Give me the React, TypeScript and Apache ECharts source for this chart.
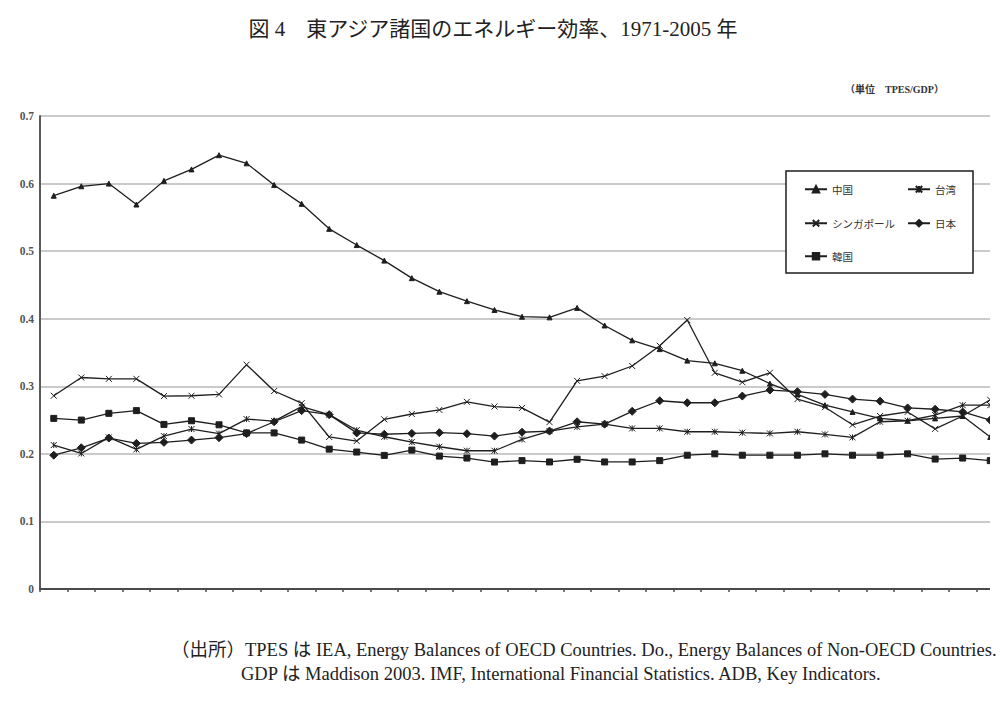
import * as echarts from 'echarts';
import { useEffect, useRef } from 'react';

const years = [
  '1971', '1972', '1973', '1974', '1975', '1976', '1977', '1978', '1979', '1980',
  '1981', '1982', '1983', '1984', '1985', '1986', '1987', '1988', '1989', '1990',
  '1991', '1992', '1993', '1994', '1995', '1996', '1997', '1998', '1999', '2000',
  '2001', '2002', '2003', '2004', '2005'
];

const china = [
  0.582, 0.596, 0.6, 0.569, 0.604, 0.621, 0.642, 0.63, 0.598, 0.57,
  0.533, 0.509, 0.486, 0.46, 0.44, 0.426, 0.413, 0.403, 0.402, 0.416,
  0.39, 0.368, 0.355, 0.338, 0.334, 0.323, 0.304, 0.288, 0.272, 0.262,
  0.2525, 0.249, 0.2525, 0.256, 0.225
];

const taiwan = [
  0.213, 0.2006, 0.2244, 0.2066, 0.2263, 0.2367, 0.23, 0.2515, 0.2485, 0.27,
  0.258, 0.235, 0.2253, 0.2175, 0.2105, 0.2046, 0.2046, 0.2214, 0.2337, 0.24,
  0.244, 0.2377, 0.2377, 0.2327, 0.2327, 0.2313, 0.2303, 0.2327, 0.2288, 0.2244,
  0.2475, 0.249, 0.2574, 0.272, 0.272
];

const singapore = [
  0.286, 0.313, 0.311, 0.311, 0.2855, 0.286, 0.288, 0.332, 0.293, 0.275,
  0.225, 0.219, 0.251, 0.259, 0.265, 0.277, 0.27, 0.268, 0.247, 0.308,
  0.315, 0.33, 0.36, 0.398, 0.32, 0.306, 0.32, 0.281, 0.269, 0.243,
  0.256, 0.262, 0.237, 0.256, 0.28
];

const japan = [
  0.198, 0.209, 0.2234, 0.2155, 0.217, 0.2204, 0.224, 0.23, 0.2475, 0.264,
  0.258, 0.231, 0.229, 0.2303, 0.2313, 0.2298, 0.2263, 0.232, 0.2337, 0.2475,
  0.244, 0.263, 0.2786, 0.2756, 0.2756, 0.2855, 0.2944, 0.292, 0.288, 0.281,
  0.278, 0.268, 0.266, 0.262, 0.25
];

const korea = [
  0.2525, 0.25, 0.26, 0.264, 0.2436, 0.249, 0.243, 0.231, 0.231, 0.2204,
  0.207, 0.2027, 0.1977, 0.2056, 0.1967, 0.1938, 0.1879, 0.19, 0.188, 0.192,
  0.188, 0.188, 0.19, 0.198, 0.2, 0.198, 0.198, 0.198, 0.2, 0.198,
  0.198, 0.2, 0.1923, 0.1938, 0.19
];

const serif = '"Liberation Serif", "Noto Sans CJK JP", serif';
const ink = '#1e1e1e';

const crossPath = 'path://M0,0L10,10M10,0L0,10';
const starPath = 'path://M0,0L10,10M10,0L0,10M5,0L5,10';

function makeSeries(name: string, data: number[], symbol: string, size: number) {
  return {
    name,
    type: 'line',
    data,
    symbol,
    symbolSize: size,
    showAllSymbol: true,
    lineStyle: { color: ink, width: 1.3 },
    itemStyle: { color: ink, borderColor: ink, borderWidth: 1 },
    emphasis: { disabled: true }
  };
}

function legendAt(name: string, left: number, top: number) {
  return {
    data: [name],
    left,
    top,
    padding: 0,
    itemGap: 0,
    itemWidth: 22,
    itemHeight: 8,
    textStyle: { fontSize: 10.5, color: '#333', fontFamily: '"Noto Sans CJK JP", sans-serif' }
  };
}

export default function App() {
  const elRef = useRef<HTMLDivElement | null>(null);

  useEffect(() => {
    if (!elRef.current) return;
    const chart = echarts.init(elRef.current, undefined, { renderer: 'svg' });

    chart.setOption({
      animation: false,
      grid: { left: 40, top: 116, width: 980, height: 473 },
      xAxis: {
        type: 'category',
        data: years,
        boundaryGap: true,
        axisLine: { lineStyle: { color: '#4a4a4a', width: 2 } },
        axisTick: { show: true, interval: 0, length: 3, lineStyle: { color: '#4a4a4a', width: 1.5 } },
        axisLabel: { show: false, interval: 0 },
        splitLine: { show: false }
      },
      yAxis: {
        type: 'value',
        min: 0,
        max: 0.7,
        interval: 0.1,
        axisLine: { show: true, lineStyle: { color: '#5a5a5a', width: 2 } },
        axisTick: { show: false },
        axisLabel: {
          margin: 6,
          fontSize: 11.5,
          fontWeight: 'bold',
          color: '#555',
          fontFamily: serif,
          formatter: (v: number) => (v === 0 ? '0' : v.toFixed(1))
        },
        splitLine: { lineStyle: { color: '#b9b9b9', width: 1.5 } }
      },
      legend: [
        legendAt('中国', 804, 184),
        legendAt('台湾', 907, 184),
        legendAt('シンガポール', 804, 218),
        legendAt('日本', 907, 218),
        legendAt('韓国', 804, 251)
      ],
      series: [
        makeSeries('中国', china, 'triangle', 5),
        makeSeries('台湾', taiwan, starPath, 6),
        makeSeries('シンガポール', singapore, crossPath, 6),
        makeSeries('日本', japan, 'diamond', 8),
        makeSeries('韓国', korea, 'rect', 6)
      ],
      graphic: [
        {
          type: 'rect',
          z: 3,
          shape: { x: 786, y: 171, width: 187, height: 102 },
          style: { fill: '#fff', stroke: ink, lineWidth: 1.5 }
        },
        {
          type: 'rect',
          z: 10,
          shape: { x: 990, y: 100, width: 20, height: 500 },
          style: { fill: '#fff' }
        },
        {
          type: 'text',
          x: 493,
          y: 29,
          style: {
            text: '図 4　東アジア諸国のエネルギー効率、1971-2005 年',
            fontSize: 21,
            fontFamily: serif,
            fill: '#222',
            align: 'center',
            verticalAlign: 'middle'
          }
        },
        {
          type: 'text',
          x: 845,
          y: 89,
          style: {
            text: '（単位　TPES/GDP）',
            fontSize: 10,
            fontWeight: 'bold',
            fontFamily: serif,
            fill: '#333',
            align: 'left',
            verticalAlign: 'middle'
          }
        },
        {
          type: 'text',
          x: 171,
          y: 650,
          style: {
            text: '（出所）TPES は IEA, Energy Balances of OECD Countries. Do., Energy Balances of Non-OECD Countries.',
            fontSize: 18.5,
            fontFamily: serif,
            fill: '#222',
            align: 'left',
            verticalAlign: 'middle'
          }
        },
        {
          type: 'text',
          x: 241,
          y: 674,
          style: {
            text: 'GDP は Maddison 2003. IMF, International Financial Statistics. ADB, Key Indicators.',
            fontSize: 18.5,
            fontFamily: serif,
            fill: '#222',
            align: 'left',
            verticalAlign: 'middle'
          }
        }
      ]
    });

    return () => chart.dispose();
  }, []);

  return (
    <div
      ref={elRef}
      style={{ position: 'absolute', left: 0, top: 0, width: 1004, height: 702, background: '#fff' }}
    />
  );
}
